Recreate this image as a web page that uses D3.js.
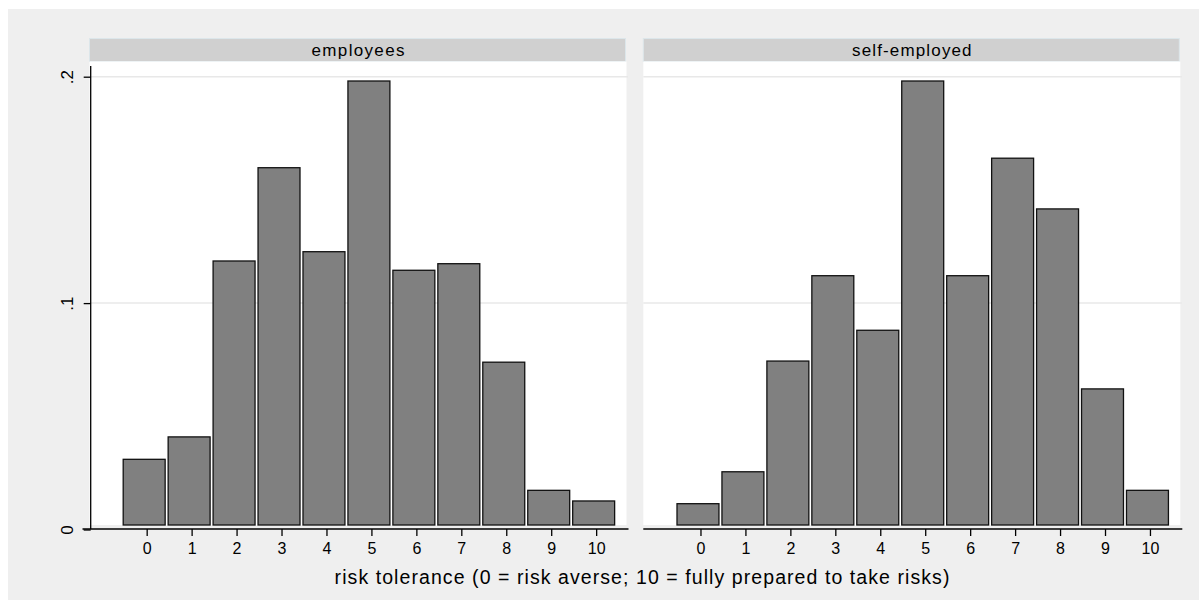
<!DOCTYPE html>
<html>
<head>
<meta charset="utf-8">
<script src="https://cdn.jsdelivr.net/npm/d3@7"></script>
<style>
  body { margin: 0; background: #fff; }
  text { font-family: "Liberation Sans", Arial, sans-serif; fill: #000; }
</style>
</head>
<body>
<script>
// data
const categories = [0, 1, 2, 3, 4, 5, 6, 7, 8, 9, 10];
const employees = [0.0310, 0.0409, 0.1186, 0.1598, 0.1227, 0.1981, 0.1145, 0.1174, 0.0739, 0.0173, 0.0126];
const selfEmployed = [0.0114, 0.0255, 0.0744, 0.1121, 0.0880, 0.1981, 0.1121, 0.1640, 0.1416, 0.0621, 0.0173];
const panelTitles = ['employees', 'self-employed'];
const yTicks = [0, 0.1, 0.2];
const yTickLabels = ['0', '.1', '.2'];
const xTitle = 'risk tolerance (0 = risk averse; 10 = fully prepared to take risks)';

const svgValues = {
    width: 1199,
    height: 600,
    panelLefts: [89.5, 643.3],
    panelWidth: 537,
    headerTop: 38.5,
    headerBottom: 61.5,
    plotBottom: 525,
    axisY: 529,
    stretch: 1.13 // the original text is drawn a little wide
}

const svg = d3.select('body')
    .append('svg')
    .attr('width', svgValues.width)
    .attr('height', svgValues.height)

svg // outer graph region
    .append('rect')
    .attr('x', 8)
    .attr('y', 9)
    .attr('width', svgValues.width - 8)
    .attr('height', svgValues.height - 9)
    .attr('fill', '#efefef')

const yScale = d3.scaleLinear()
    .domain([0, 0.2])
    .range([529.5, 76.7])

function widen(sel){
    sel.each(function(){
        const w = this.getComputedTextLength();
        d3.select(this)
            .attr('textLength', w * svgValues.stretch)
            .attr('lengthAdjust', 'spacing')
    })
}

function makePanel(values, title, i){
    const left = svgValues.panelLefts[i];
    const right = left + svgValues.panelWidth;

    const xScale = d3.scaleLinear()
        .domain([-1.272, 10.675])
        .range([left, right])

    const g = svg.append('g').attr('class', 'panel')

    g.append('rect') // header strip
        .attr('x', left)
        .attr('y', svgValues.headerTop)
        .attr('width', svgValues.panelWidth - 1)
        .attr('height', svgValues.headerBottom - svgValues.headerTop)
        .attr('fill', '#d0d0d0')
        .attr('stroke', '#dce6ea')
        .attr('stroke-width', 1)

    g.append('text')
        .text(title)
        .attr('x', left + svgValues.panelWidth / 2)
        .attr('y', 56)
        .attr('text-anchor', 'middle')
        .style('font-size', '17px')
        .call(widen)

    g.append('rect') // plot region
        .attr('x', left)
        .attr('y', svgValues.headerBottom)
        .attr('width', svgValues.panelWidth)
        .attr('height', svgValues.plotBottom - svgValues.headerBottom)
        .attr('fill', '#ffffff')

    g.selectAll('line.grid')
        .data(yTicks.filter(d => d > 0))
        .enter()
        .append('line')
        .attr('class', 'grid')
        .attr('x1', left)
        .attr('x2', right + 1.5)
        .attr('y1', d => yScale(d))
        .attr('y2', d => yScale(d))
        .attr('stroke', '#e8e8e8')
        .attr('stroke-width', 1.5)

    const step = xScale(1) - xScale(0);
    g.selectAll('rect.bar')
        .data(categories)
        .enter()
        .append('rect')
        .attr('class', 'bar')
        .attr('x', d => xScale(d - 0.5) - 1)
        .attr('width', step - 3)
        .attr('y', (d, j) => yScale(values[j]))
        .attr('height', (d, j) => svgValues.plotBottom - yScale(values[j]))
        .attr('fill', '#808080')
        .attr('stroke', '#111')
        .attr('stroke-width', 1.3)

    const xAxis = d3.axisBottom(xScale)
        .tickValues(categories)
        .tickSize(7)
        .tickSizeOuter(0)
        .tickPadding(7)

    const ax = g.append('g')
        .attr('transform', 'translate(0,' + svgValues.axisY + ')')
        .call(xAxis)
    ax.select('.domain').remove()
    ax.selectAll('.tick line').attr('stroke', '#000').attr('stroke-width', 1.3)
    ax.selectAll('.tick text')
        .style('font-size', '16px')
        .style('font-family', '"Liberation Sans", Arial, sans-serif')
        .attr('fill', '#000')

    g.append('line') // x axis line
        .attr('x1', i === 0 ? left - 7 : left)
        .attr('x2', right + 2)
        .attr('y1', svgValues.axisY)
        .attr('y2', svgValues.axisY)
        .attr('stroke', '#000')
        .attr('stroke-width', 1.3)

    if (i === 0){
        const yAxis = d3.axisLeft(yScale)
            .tickValues(yTicks)
            .tickFormat((d, k) => yTickLabels[k])
            .tickSize(7)
            .tickSizeOuter(0)

        const ay = g.append('g')
            .attr('transform', 'translate(' + (left + 1.2) + ',0)')
            .call(yAxis)
        ay.select('.domain').remove()
        ay.selectAll('.tick line').attr('stroke', '#000').attr('stroke-width', 1.3)
        ay.selectAll('.tick text')
            .attr('x', null)
            .attr('dy', null)
            .attr('text-anchor', 'middle')
            .attr('transform', 'translate(-18,0) rotate(-90)')
            .style('font-size', '17px')
            .style('font-family', '"Liberation Sans", Arial, sans-serif')
            .attr('fill', '#000')

        g.append('line') // y axis line
            .attr('x1', left + 1.2)
            .attr('x2', left + 1.2)
            .attr('y1', 66)
            .attr('y2', svgValues.axisY)
            .attr('stroke', '#000')
            .attr('stroke-width', 1.3)
    }
}

makePanel(employees, panelTitles[0], 0);
makePanel(selfEmployed, panelTitles[1], 1);

svg // x axis title
    .append('text')
    .text(xTitle)
    .attr('x', 642)
    .attr('y', 584)
    .attr('text-anchor', 'middle')
    .style('font-size', '19.5px')
    .call(widen)
</script>
</body>
</html>
